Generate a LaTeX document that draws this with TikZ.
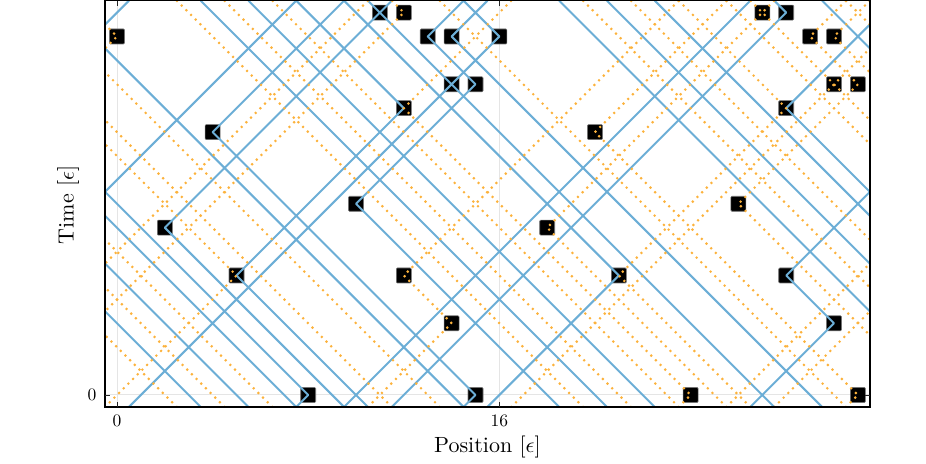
\documentclass[tikz,border=0pt]{standalone}
\definecolor{rayblue}{RGB}{108,174,214}
\definecolor{rayorange}{RGB}{252,178,60}
\begin{document}
\begin{tikzpicture}[x=23.9pt,y=23.9pt,
  blueray/.style={draw=rayblue,line width=2pt,line join=round},
  orangeray/.style={draw=rayorange,line width=2.9pt,line cap=round,dash pattern=on 0pt off 6.6pt},
  sq/.style={fill=black,draw=black!55,line width=0.6pt,minimum size=15pt,inner sep=0pt,rounded corners=1pt},
  gridline/.style={draw=black!10,line width=1pt},
  tickmark/.style={draw=black!85,line width=0.9pt},
  ticklabel/.style={scale=1.75,inner sep=0pt},
  axlabel/.style={scale=2.2,inner sep=0pt}]
\useasboundingbox (-117pt,-68pt) rectangle (809pt,395pt);
\begin{scope}
\clip (-0.5,-0.5) rectangle (31.5,16.5);
\draw[gridline] (0,-0.5)--(0,16.5) (16,-0.5)--(16,16.5) (-0.5,0)--(31.5,0);
% event squares
\foreach \px/\pt in {8/0,15/0,24/0,31/0,14/3,30/3,5/5,12/5,21/5,28/5,2/7,18/7,10/8,26/8,4/11,20/11,12/12,28/12,14/13,15/13,30/13,31/13,0/15,13/15,14/15,16/15,29/15,30/15,11/16,12/16,27/16,28/16}{
  \node[sq] (s\px-\pt) at (\px,\pt) {};
}
% blue rays (periodic copies)
\foreach \s in {-32,0,32}{
\draw[blueray,shift={(\s,0)}]
 (0.5,-0.5)--(16,15)--(14.5,16.5)
 (3.5,-0.5)--(-13.5,16.5)
 (5.5,-0.5)--(-11.5,16.5)
 (7.5,-0.5)--(8,0)--(-4,12)--(0.5,16.5)
 (9.5,-0.5)--(2,7)--(11.5,16.5)
 (9.5,-0.5)--(26.5,16.5)
 (10.5,-0.5)--(5,5)--(12,12)--(7.5,16.5)
 (11.5,-0.5)--(28,16)--(27.5,16.5)
 (14.5,-0.5)--(15,0)--(4,11)--(9.5,16.5)
 (14.5,-0.5)--(-2.5,16.5)
 (15.5,-0.5)--(21,5)--(9.5,16.5)
 (18.5,-0.5)--(10,8)--(15,13)--(13,15)--(14.5,16.5)
 (20.5,-0.5)--(3.5,16.5)
 (22.5,-0.5)--(5.5,16.5)
 (26.5,-0.5)--(30,3)--(28,5)--(39.5,16.5)
 (27.5,-0.5)--(10.5,16.5)
 (29.5,-0.5)--(14,15)--(15.5,16.5)
 (7.5,-0.5)--(-9.5,16.5);
}
% orange rays: same pattern shifted by 16
\foreach \s in {-16,16,48}{
\draw[orangeray,shift={(\s,0)}]
 (0.5,-0.5)--(16,15)--(14.5,16.5)
 (3.5,-0.5)--(-13.5,16.5)
 (5.5,-0.5)--(-11.5,16.5)
 (7.5,-0.5)--(8,0)--(-4,12)--(0.5,16.5)
 (9.5,-0.5)--(2,7)--(11.5,16.5)
 (9.5,-0.5)--(26.5,16.5)
 (10.5,-0.5)--(5,5)--(12,12)--(7.5,16.5)
 (11.5,-0.5)--(28,16)--(27.5,16.5)
 (14.5,-0.5)--(15,0)--(4,11)--(9.5,16.5)
 (14.5,-0.5)--(-2.5,16.5)
 (15.5,-0.5)--(21,5)--(9.5,16.5)
 (18.5,-0.5)--(10,8)--(15,13)--(13,15)--(14.5,16.5)
 (20.5,-0.5)--(3.5,16.5)
 (22.5,-0.5)--(5.5,16.5)
 (26.5,-0.5)--(30,3)--(28,5)--(39.5,16.5)
 (27.5,-0.5)--(10.5,16.5)
 (29.5,-0.5)--(14,15)--(15.5,16.5)
 (7.5,-0.5)--(-9.5,16.5);
}
\end{scope}
% frame and ticks
\draw[black,line width=1.6pt] (-0.5,-0.5) rectangle (31.5,16.5);
\foreach \tx in {0,16}{
  \draw[tickmark] (\tx,-0.5)--++(0,5pt);
  \draw[tickmark] (\tx,16.5)--++(0,-5pt);
}
\draw[tickmark] (-0.5,0)--++(5pt,0);
\draw[tickmark] (31.5,0)--++(-5pt,0);
% labels
\node[ticklabel] (tx0) at (0,-1.09) {0};
\node[ticklabel] (tx16) at (16,-1.09) {16};
\node[ticklabel] (ty0) at (-1.05,0) {0};
\node[axlabel] (xlab) at (15.5,-2.18) {Position [$\epsilon$]};
\node[axlabel,rotate=90] (ylab) at (-2.05,7.95) {Time [$\epsilon$]};
\end{tikzpicture}
\end{document}
